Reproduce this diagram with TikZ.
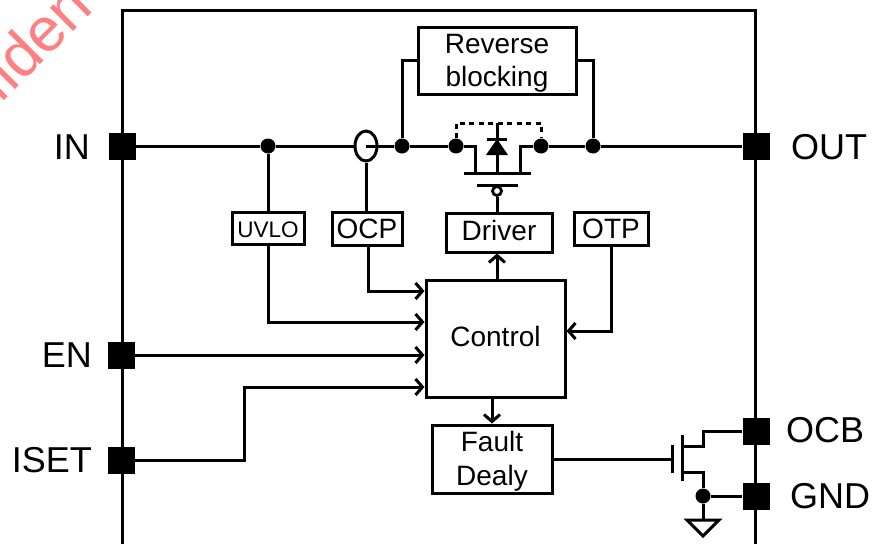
\documentclass[tikz,border=0pt]{standalone}
\usepackage{fontspec}
\setmainfont{Liberation Sans}
\usetikzlibrary{positioning,arrows.meta,calc,shapes.geometric}

\begin{document}
\begin{tikzpicture}[
    x=1pt,
    y=-1pt,
    font=\fontsize{28}{33}\selectfont,
    wire/.style={line width=3pt},
    arrow/.style={wire, -{Straight Barb[length=7pt,width=16pt,line width=3pt]}},
    block/.style={
        draw,
        line width=3pt,
        fill=white,
        inner sep=0pt,
        align=center
    },
    pin/.style={fill=black, minimum size=27pt, inner sep=0pt},
    pinlabel/.style={font=\fontsize{36}{42}\selectfont, inner sep=0pt},
    dot/.style={circle, fill=black, minimum size=15pt, inner sep=0pt},
    mark text/.style={text=red!50!white, font=\fontsize{62}{66}\selectfont, rotate=45, inner sep=0pt, anchor=base west}
]
\useasboundingbox (0,0) rectangle (872,544);

% package outline, open at the bottom
\coordinate (pkgbl) at (122,544);
\coordinate (pkgtl) at (122,10);
\coordinate (pkgtr) at (755,10);
\coordinate (pkgbr) at (755,544);
\draw[wire] (pkgbl) -- (pkgtl) -- (pkgtr) -- (pkgbr);

% stamp
\begin{scope}
\clip (0,0) rectangle (872,544);
\node[mark text] (stamp) at (0,105) {fiden};
\end{scope}

% pins
\node[pin] (in) at (122,146) {};
\node[pin] (out) at (756,146) {};
\node[pin] (en) at (121,355) {};
\node[pin] (iset) at (121,460) {};
\node[pin] (ocb) at (756,431) {};
\node[pin] (gnd) at (756,496) {};
\node[pinlabel, anchor=east] (inlab) at (90,147) {IN};
\node[pinlabel, anchor=west] (outlab) at (791,147) {OUT};
\node[pinlabel, anchor=east] (enlab) at (92,355) {EN};
\node[pinlabel, anchor=east] (isetlab) at (92,460) {ISET};
\node[pinlabel, anchor=west] (ocblab) at (786,430) {OCB};
\node[pinlabel, anchor=west] (gndlab) at (790,496) {GND};

% blocks
\node[block, minimum width=158pt, minimum height=67pt] (rev) at (497,60.5) {\rule{0pt}{24pt}Reverse\\blocking};
\node[block, minimum width=72pt, minimum height=32pt, text height=20pt, font=\fontsize{22.5}{27}\selectfont] (uvlo) at (268,228) {UVLO};
\node[block, minimum width=70pt, minimum height=33pt] (ocp) at (367,228.5) {OCP};
\node[block, minimum width=106pt, minimum height=39pt, text depth=4pt] (driver) at (499,232.5) {Driver};
\node[block, minimum width=74pt, minimum height=33pt] (otp) at (611,228.5) {OTP};
\node[block, minimum width=139pt, minimum height=117pt, text depth=4pt] (ctrl) at (495.5,338.5) {Control};
\node[block, minimum width=120pt, minimum height=68pt, font=\fontsize{28}{34}\selectfont] (fault) at (492,459) {\rule{0pt}{24pt}Fault\\Dealy};

% junctions on the power rail
\node[dot] (juvlo) at (268,146) {};
\node[draw, line width=3pt, ellipse, fill=white, minimum width=22pt, minimum height=30pt, inner sep=0pt] (sense) at (366,146) {};
\node[dot] (jrevl) at (402,146) {};
\node[dot] (jsrc) at (456,146) {};
\node[dot] (jdrn) at (541,146) {};
\node[dot] (jrevr) at (593,146) {};

\draw[wire] (in) -- (juvlo) -- (sense.west);
\draw[wire] (sense.center) -- (jrevl) -- (jsrc);
\draw[wire] (jdrn) -- (jrevr) -- (out);
\draw[wire] (jrevl) |- (rev.west);
\draw[wire] (rev.east) -| (jrevr);

% pass fet
\coordinate (bodyl) at (464,173);
\coordinate (bodyr) at (531,173);
\coordinate (gatel) at (477,185);
\coordinate (gater) at (518,185);
\coordinate (cathode) at (497,123);
\node[circle, draw, line width=2.8pt, fill=white, minimum size=9pt, inner sep=0pt] (bubble) at (497,191) {};
\draw[wire] (bodyl) -- (bodyr);
\draw[wire] (gatel) -- (gater);
\draw[wire] (jsrc) -- (475,146) -- (475,173);
\draw[wire] (jdrn) -- (520,146) -- (520,173);
\draw[wire] (cathode) -- (497,173);
\draw[wire, dashed, dash pattern=on 5pt off 4.5pt] (jsrc) |- (cathode) -| (jdrn);
\draw[wire] (487,139) -- (507,139);
\fill (497,139) -- (508,155) -- (486,155) -- cycle;
\draw[wire] (497,185) -- (bubble);
\draw[wire] (bubble) -- (driver.north -| bubble);

% control signals
\draw[wire] (juvlo) -- (uvlo.north -| juvlo);
\draw[wire] (sense.south) -- (ocp.north -| sense);
\draw[arrow] (uvlo.south -| juvlo) |- (ctrl.west |- 0,322);
\draw[arrow] (368,245) |- (ctrl.west |- 0,291);
\draw[arrow] (ctrl.north -| bubble) -- (driver.south -| bubble);
\draw[arrow] (otp.south) |- (ctrl.east |- 0,331);
\draw[arrow] (en) -- (ctrl.west |- en);
\draw[arrow] (iset) -- (244,460) |- (ctrl.west |- 0,387);
\draw[arrow] (ctrl.south -| fault) -- (fault.north);

% open drain fet
\node[dot] (jgnd) at (703,496) {};
\coordinate (gtop) at (672,445);
\coordinate (gbot) at (672,473);
\coordinate (ctop) at (682,435);
\coordinate (cbot) at (682,481);
\draw[wire] (fault.east) -- (fault.east -| gtop);
\draw[wire] (gtop) -- (gbot);
\draw[wire] (ctop) -- (cbot);
\draw[wire] (682,446) -- (703,446) |- (ocb);
\draw[wire] (682,472) -- (703,472) -- (jgnd);
\draw[wire] (jgnd) -- (gnd);

% ground
\coordinate (gndl) at (687,520);
\coordinate (gndr) at (719,520);
\coordinate (gndb) at (703,536);
\draw[wire] (jgnd) -- ($(gndl)!0.5!(gndr)$);
\draw[wire, line join=miter] (gndl) -- (gndr) -- (gndb) -- cycle;
\end{tikzpicture}
\end{document}
